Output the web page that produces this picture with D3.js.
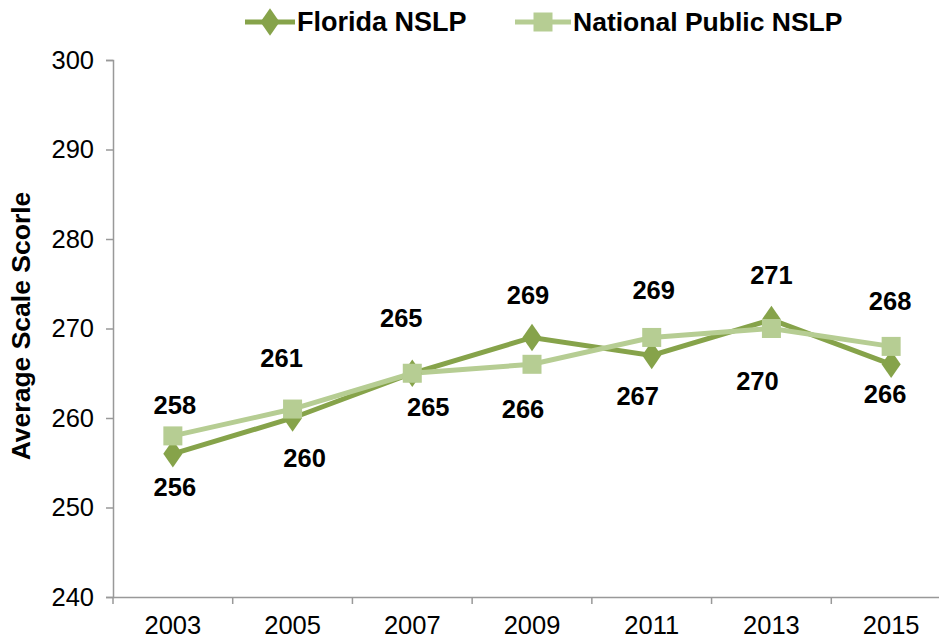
<!DOCTYPE html>
<html lang="en">
<head>
<meta charset="utf-8">
<title>Average Scale Score: Florida NSLP vs National Public NSLP</title>
<script src="https://cdn.jsdelivr.net/npm/d3@7/dist/d3.min.js"></script>
<style>
  body { margin: 0; background: #fff; }
  svg text { font-family: Arial, "Liberation Sans", sans-serif; fill: #000; }
</style>
</head>
<body>
<script>
// data
var years = ["2003", "2005", "2007", "2009", "2011", "2013", "2015"];
var floridaScores = [256, 260, 265, 269, 267, 271, 266];
var nationalScores = [258, 261, 265, 266, 269, 270, 268];
var yTicks = [240, 250, 260, 270, 280, 290, 300];

// where each value label sits relative to its point (dx, dy)
var floridaLabelOffsets = [[2, 33], [12, 40], [16, 34], [-4, -42], [-14, 41], [0, -45], [-6, 30]];
var nationalLabelOffsets = [[2, -31], [-11, -51], [-11, -55], [-9, 45], [2, -47], [-14, 52], [-1, -45]];

var w = 939, h = 641;
var colFL = "#86a34a", colNat = "#b6cd93", axisCol = "#999";

var svg = d3.select("body").append("svg")
  .attr("width", w).attr("height", h);

var x = d3.scaleBand().domain(years).range([113, 951]);
var y = d3.scaleLinear().domain([240, 300]).range([597, 60]);

// y axis
var yAxis = svg.append("g").attr("transform", "translate(113,0)")
  .call(d3.axisLeft(y).tickValues(yTicks).tickSize(7).tickPadding(12));
yAxis.selectAll("text").style("font-size", "25.5px");

// x axis with ticks on the category boundaries
var xAxis = svg.append("g").attr("transform", "translate(0,597)")
  .call(d3.axisBottom(x).tickSize(0).tickPadding(14));
xAxis.selectAll("text").style("font-size", "25.5px").attr("dy", "0.9em");
xAxis.selectAll(".bt").data(years).enter().append("line")
  .attr("x1", function(d) { return x(d); }).attr("x2", function(d) { return x(d); })
  .attr("y1", 0).attr("y2", 7).attr("stroke", axisCol).attr("stroke-width", 1.5);

svg.selectAll(".domain").attr("stroke", axisCol).attr("stroke-width", 1.5);
yAxis.selectAll(".tick line").attr("stroke", axisCol).attr("stroke-width", 1.5);

// y axis title
svg.append("text")
  .attr("transform", "translate(30,326) rotate(-90)")
  .attr("text-anchor", "middle")
  .style("font-size", "26.5px").style("font-weight", "bold")
  .text("Average Scale Scorle");

function cx(i) { return x(years[i]) + x.bandwidth() / 2; }

var line = d3.line()
  .x(function(d, i) { return cx(i); })
  .y(function(d) { return y(d); });

var diamond = d3.symbol().type(d3.symbolDiamond).size(220);

// florida series
svg.append("path").datum(floridaScores)
  .attr("d", line).attr("fill", "none")
  .attr("stroke", colFL).attr("stroke-width", 5);

// national series
svg.append("path").datum(nationalScores)
  .attr("d", line).attr("fill", "none")
  .attr("stroke", colNat).attr("stroke-width", 5);

svg.selectAll(".fl").data(floridaScores).enter().append("path")
  .attr("d", diamond)
  .attr("transform", function(d, i) { return "translate(" + cx(i) + "," + y(d) + ") scale(1.2,1)"; })
  .attr("fill", colFL);

svg.selectAll(".nat").data(nationalScores).enter().append("rect")
  .attr("x", function(d, i) { return cx(i) - 9.5; })
  .attr("y", function(d) { return y(d) - 9.5; })
  .attr("width", 19).attr("height", 19)
  .attr("fill", colNat);

// value labels
function addLabels(values, offsets) {
  svg.append("g").selectAll("text").data(values).enter().append("text")
    .attr("x", function(d, i) { return cx(i) + offsets[i][0]; })
    .attr("y", function(d, i) { return y(d) + offsets[i][1]; })
    .attr("text-anchor", "middle")
    .attr("dominant-baseline", "central")
    .style("font-size", "25.5px").style("font-weight", "bold")
    .text(function(d) { return d; });
}
addLabels(floridaScores, floridaLabelOffsets);
addLabels(nationalScores, nationalLabelOffsets);

// legend
var leg = svg.append("g");
leg.append("line").attr("x1", 245).attr("x2", 295).attr("y1", 22).attr("y2", 22)
  .attr("stroke", colFL).attr("stroke-width", 5);
leg.append("path").attr("d", diamond)
  .attr("transform", "translate(270,22) scale(1.2,1)").attr("fill", colFL);
leg.append("text").attr("x", 297).attr("y", 22).attr("dominant-baseline", "central")
  .style("font-size", "27px").style("font-weight", "bold").text("Florida NSLP");

leg.append("line").attr("x1", 515).attr("x2", 571).attr("y1", 22).attr("y2", 22)
  .attr("stroke", colNat).attr("stroke-width", 5);
leg.append("rect").attr("x", 533.5).attr("y", 12.5).attr("width", 19).attr("height", 19)
  .attr("fill", colNat);
leg.append("text").attr("x", 573).attr("y", 22).attr("dominant-baseline", "central")
  .style("font-size", "26.5px").style("font-weight", "bold").text("National Public NSLP");
</script>
</body>
</html>
